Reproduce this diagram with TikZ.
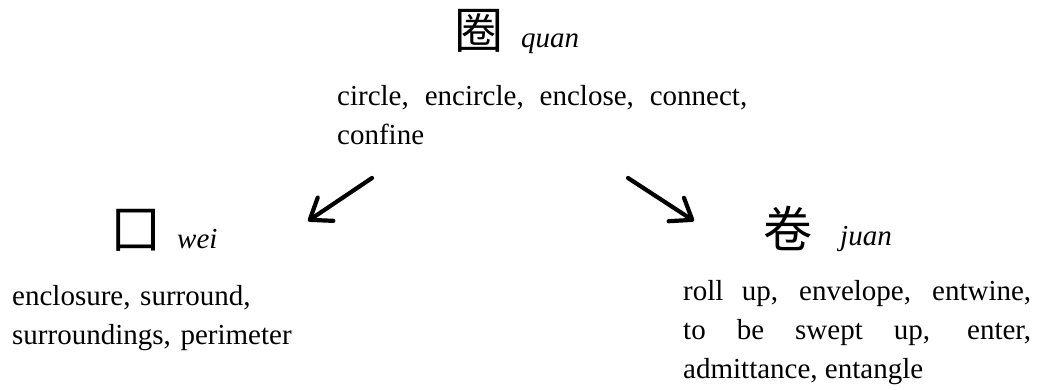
\documentclass[tikz,border=0pt]{standalone}
\usepackage{fontspec}
\setmainfont{Liberation Serif}
\newfontfamily\cjk{Noto Sans CJK SC}
\usetikzlibrary{arrows.meta}
\hyphenpenalty=10000
\exhyphenpenalty=10000
\begin{document}
\begin{tikzpicture}[x=1pt,y=-1pt,
  hanzi/.style={inner sep=0pt, font=\cjk\fontsize{49}{49}\selectfont},
  pinyin/.style={inner sep=0pt, anchor=base west, font=\fontsize{29}{29}\selectfont\itshape},
  gloss/.style={inner sep=0pt, anchor=north west, font=\fontsize{29}{39}\selectfont},
  arr/.style={line width=4.2pt, line cap=round, line join=round,
    -{Straight Barb[length=19pt,width=28pt,line cap=round,line join=round]}}]
\useasboundingbox (0,0) rectangle (1040,390);
% top
\node[hanzi] (quanc) at (479,31) {圈};
\node[pinyin] (quanp) at (521,48) {quan};
\node[gloss, text width=410pt, align=justify] (topdef) at (337,84)
  {\rule{0pt}{21pt}circle, encircle, enclose, connect, confine};
% left
\node[hanzi] (weic) at (135.5,230) {囗};
\node[pinyin] (weip) at (177,248) {wei};
\node[gloss, text width=320pt, align=left] (leftdef) at (12,284)
  {\rule{0pt}{21pt}enclosure, surround,\\surroundings, perimeter};
% right
\node[hanzi] (juanc) at (788,228) {卷};
\node[pinyin] (juanp) at (840,245) {juan};
\node[gloss, text width=348pt, align=justify] (rightdef) at (683,279)
  {\rule{0pt}{21pt}roll up, envelope, entwine,\linebreak to be swept up, enter,\linebreak admittance, entangle};
% arrows
\coordinate (la) at (372,178);
\coordinate (lb) at (308,221);
\coordinate (ra) at (628,178);
\coordinate (rb) at (694,221);
\draw[arr] (la) -- (lb);
\draw[arr] (ra) -- (rb);
\end{tikzpicture}
\end{document}
